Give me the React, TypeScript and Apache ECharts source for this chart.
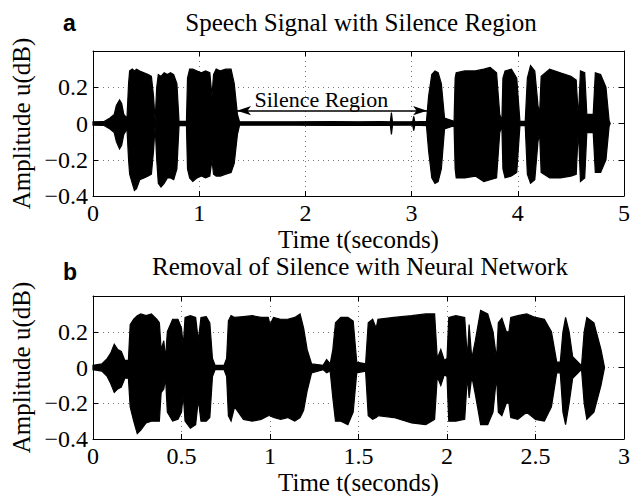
import React, { useEffect, useRef } from "react";
import * as echarts from "echarts";

// ---- Data (envelope knots) ----
// Top panel: speech signal with silence region (time in seconds, amplitude)
const topTime = [
  0.0, 0.1, 0.16, 0.2, 0.22, 0.25, 0.27, 0.29, 0.32, 0.335, 0.345, 0.37, 0.39, 0.41, 0.44, 0.48, 0.52, 0.55,
  0.57, 0.585, 0.6, 0.615, 0.64, 0.67, 0.7, 0.73, 0.76, 0.79, 0.81, 0.88, 0.89, 0.91, 0.94, 0.98, 1.02, 1.06,
  1.1, 1.12, 1.135, 1.16, 1.2, 1.25, 1.3, 1.33, 1.36, 1.38, 1.6, 1.9, 2.25, 2.5, 2.7, 2.8, 2.81, 2.82, 3.01,
  3.02, 3.03, 3.14, 3.16, 3.19, 3.22, 3.25, 3.28, 3.31, 3.4, 3.41, 3.42, 3.5, 3.6, 3.68, 3.74, 3.8, 3.83, 3.85,
  3.86, 3.88, 3.94, 3.99, 4.02, 4.07, 4.09, 4.12, 4.16, 4.19, 4.205, 4.22, 4.3, 4.4, 4.5, 4.55, 4.57, 4.59,
  4.63, 4.65, 4.71, 4.73, 4.78, 4.83, 4.86, 4.87,
];
const topUpper = [
  0.009, 0.01, 0.03, 0.05, 0.1, 0.13, 0.11, 0.05, 0.03, 0.22, 0.29, 0.3, 0.29, 0.3, 0.29, 0.28, 0.27, 0.26,
  0.15, 0.015, 0.2, 0.27, 0.26, 0.28, 0.27, 0.28, 0.27, 0.22, 0.012, 0.012, 0.25, 0.3, 0.3, 0.29, 0.28, 0.29,
  0.28, 0.15, 0.27, 0.3, 0.29, 0.3, 0.3, 0.22, 0.05, 0.009, 0.009, 0.009, 0.011, 0.009, 0.011, 0.009, 0.06, 0.009, 0.009,
  0.04, 0.009, 0.012, 0.15, 0.27, 0.29, 0.28, 0.22, 0.03, 0.012, 0.25, 0.28, 0.29, 0.29, 0.3, 0.31, 0.28, 0.05, 0.015,
  0.25, 0.29, 0.3, 0.25, 0.012, 0.012, 0.25, 0.32, 0.29, 0.1, 0.05, 0.26, 0.3, 0.28, 0.26, 0.24, 0.03, 0.29,
  0.28, 0.05, 0.05, 0.28, 0.27, 0.2, 0.015, 0.0,
];
const topLower = [
  -0.009, -0.01, -0.03, -0.05, -0.1, -0.14, -0.12, -0.06, -0.03, -0.2, -0.28, -0.33, -0.37, -0.36, -0.31, -0.3, -0.29, -0.28,
  -0.15, -0.015, -0.2, -0.33, -0.35, -0.33, -0.3, -0.3, -0.31, -0.25, -0.012, -0.012, -0.25, -0.3, -0.32, -0.3, -0.29, -0.3,
  -0.29, -0.2, -0.28, -0.29, -0.29, -0.28, -0.27, -0.22, -0.06, -0.009, -0.009, -0.009, -0.011, -0.009, -0.011, -0.009, -0.06, -0.009, -0.009,
  -0.04, -0.009, -0.012, -0.15, -0.3, -0.33, -0.32, -0.25, -0.03, -0.012, -0.25, -0.3, -0.3, -0.29, -0.32, -0.31, -0.3, -0.05, -0.015,
  -0.25, -0.3, -0.29, -0.27, -0.012, -0.012, -0.28, -0.33, -0.31, -0.1, -0.05, -0.27, -0.3, -0.3, -0.29, -0.28, -0.03, -0.32,
  -0.3, -0.05, -0.05, -0.27, -0.27, -0.2, -0.015, 0.0,
];

// Bottom panel: signal after silence removal
const botTime = [
  0.0, 0.05, 0.08, 0.1, 0.12, 0.14, 0.16, 0.18, 0.2, 0.21, 0.23, 0.25, 0.27, 0.3, 0.33, 0.36, 0.375, 0.385,
  0.4, 0.41, 0.42, 0.45, 0.48, 0.5, 0.51, 0.52, 0.55, 0.58, 0.595, 0.61, 0.64, 0.66, 0.675, 0.69, 0.74, 0.755,
  0.765, 0.78, 0.8, 0.85, 0.9, 0.95, 0.99, 1.0, 1.02, 1.06, 1.1, 1.14, 1.17, 1.19, 1.21, 1.235, 1.3, 1.32,
  1.34, 1.355, 1.37, 1.4, 1.44, 1.47, 1.49, 1.54, 1.555, 1.58, 1.6, 1.61, 1.7, 1.8, 1.88, 1.93, 1.945, 1.965,
  1.985, 2.0, 2.01, 2.05, 2.1, 2.115, 2.125, 2.14, 2.16, 2.19, 2.23, 2.26, 2.28, 2.29, 2.31, 2.335, 2.35, 2.36,
  2.4, 2.45, 2.5, 2.55, 2.59, 2.62, 2.64, 2.655, 2.67, 2.69, 2.71, 2.76, 2.775, 2.79, 2.83, 2.87, 2.89,
];
const botUpper = [
  0.012, 0.02, 0.05, 0.08, 0.13, 0.1, 0.09, 0.04, 0.04, 0.24, 0.27, 0.29, 0.3, 0.29, 0.3, 0.27, 0.25, 0.1,
  0.15, 0.05, 0.2, 0.27, 0.27, 0.22, 0.12, 0.28, 0.29, 0.28, 0.15, 0.28, 0.285, 0.25, 0.05, 0.012, 0.012, 0.05,
  0.26, 0.29, 0.28, 0.285, 0.29, 0.28, 0.28, 0.24, 0.28, 0.27, 0.27, 0.28, 0.3, 0.22, 0.1, 0.02, 0.012, 0.045,
  0.02, 0.1, 0.25, 0.28, 0.28, 0.26, 0.03, 0.02, 0.25, 0.27, 0.22, 0.27, 0.28, 0.29, 0.3, 0.3, 0.05, 0.1,
  0.04, 0.05, 0.28, 0.29, 0.28, 0.05, 0.24, 0.05, 0.15, 0.32, 0.3, 0.2, 0.05, 0.25, 0.275, 0.2, 0.2, 0.28,
  0.29, 0.3, 0.28, 0.27, 0.2, 0.03, 0.03, 0.2, 0.28, 0.2, 0.06, 0.01, 0.2, 0.28, 0.25, 0.1, 0.0,
];
const botLower = [
  -0.012, -0.02, -0.05, -0.09, -0.14, -0.12, -0.11, -0.06, -0.06, -0.22, -0.3, -0.37, -0.35, -0.31, -0.3, -0.3, -0.3, -0.14,
  -0.12, -0.06, -0.25, -0.3, -0.29, -0.25, -0.15, -0.3, -0.34, -0.32, -0.18, -0.3, -0.3, -0.28, -0.05, -0.012, -0.012, -0.05,
  -0.27, -0.3, -0.22, -0.29, -0.3, -0.29, -0.27, -0.27, -0.28, -0.29, -0.28, -0.3, -0.28, -0.24, -0.13, -0.03, -0.012, -0.03,
  -0.02, -0.17, -0.3, -0.3, -0.32, -0.25, -0.03, -0.02, -0.27, -0.29, -0.28, -0.27, -0.28, -0.31, -0.32, -0.29, -0.05, -0.1,
  -0.04, -0.05, -0.3, -0.3, -0.29, -0.05, -0.17, -0.05, -0.15, -0.32, -0.32, -0.25, -0.05, -0.25, -0.27, -0.2, -0.2, -0.28,
  -0.29, -0.25, -0.29, -0.3, -0.22, -0.03, -0.03, -0.25, -0.32, -0.2, -0.06, -0.01, -0.2, -0.29, -0.25, -0.1, 0.0,
];

// Annotation
const silenceStart = 1.356;
const silenceEnd = 3.146;
const arrowLevel = 0.071;
const silenceLabelPos = [2.15, 0.135];

const topTicks = { min: 0, max: 5, interval: 1 };
const botTicks = { min: 0, max: 3, interval: 0.5 };
const yTicks = { min: -0.4, max: 0.4, interval: 0.2 };

const SERIF = "Liberation Serif, serif";
const SANS = "Liberation Sans, sans-serif";

function fmtY(v: number): string {
  const r = parseFloat(v.toFixed(1));
  if (r >= 0.39) return "";
  if (r < 0) return "\u2212" + String(Math.abs(r));
  return String(r);
}

function waveSeries(t: number[], hi: number[], lo: number[], xi: number, yi: number) {
  return {
    type: "custom",
    xAxisIndex: xi,
    yAxisIndex: yi,
    silent: true,
    z: 3,
    data: t.map((x, i) => [x, hi[i], lo[i]]),
    renderItem: (params: any, api: any) => {
      if (params.dataIndex !== 0) return null;
      const up = t.map((x, i) => api.coord([x, hi[i]]));
      const dn = t.map((x, i) => api.coord([x, lo[i]])).reverse();
      return {
        type: "polygon",
        shape: { points: up.concat(dn) },
        style: { fill: "#000", stroke: "#000", lineWidth: 1.2, lineJoin: "miter" },
      };
    },
  };
}

function xAxes(grid: number, ticks: { min: number; max: number; interval: number }) {
  return [
    {
      gridIndex: grid,
      type: "value",
      position: "bottom",
      ...ticks,
      axisLine: { show: true, onZero: false, lineStyle: { color: "#000", width: 1 } },
      axisTick: { show: true, inside: true, length: 5, lineStyle: { color: "#000" } },
      axisLabel: { fontFamily: SERIF, fontSize: 24, color: "#000", margin: 5 },
      splitLine: { show: true, lineStyle: { color: "#777", type: [1, 4], width: 1 } },
      name: "Time t(seconds)",
      nameLocation: "middle",
      nameGap: 31,
      nameTextStyle: { fontFamily: SERIF, fontSize: 25, color: "#000" },
    },
    {
      gridIndex: grid,
      type: "value",
      position: "top",
      ...ticks,
      axisLine: { show: true, onZero: false, lineStyle: { color: "#000", width: 1 } },
      axisTick: { show: true, inside: true, length: 5, lineStyle: { color: "#000" } },
      axisLabel: { show: false },
      splitLine: { show: false },
    },
  ];
}

function yAxes(grid: number) {
  return [
    {
      gridIndex: grid,
      type: "value",
      position: "left",
      ...yTicks,
      axisLine: { show: true, onZero: false, lineStyle: { color: "#000", width: 1 } },
      axisTick: { show: true, inside: true, length: 5, lineStyle: { color: "#000" } },
      axisLabel: { fontFamily: SERIF, fontSize: 24, color: "#000", margin: 5, formatter: fmtY },
      splitLine: { show: true, lineStyle: { color: "#777", type: [1, 4], width: 1 } },
      name: "Amplitude u(dB)",
      nameLocation: "middle",
      nameRotate: 90,
      nameGap: 56,
      nameTextStyle: { fontFamily: SERIF, fontSize: 25, color: "#000" },
    },
    {
      gridIndex: grid,
      type: "value",
      position: "right",
      ...yTicks,
      axisLine: { show: true, onZero: false, lineStyle: { color: "#000", width: 1 } },
      axisTick: { show: true, inside: true, length: 5, lineStyle: { color: "#000" } },
      axisLabel: { show: false },
      splitLine: { show: false },
    },
  ];
}

export default function App() {
  const ref = useRef<HTMLDivElement>(null);
  useEffect(() => {
    if (!ref.current) return;
    const chart = echarts.init(ref.current, null, { renderer: "svg" });
    const option: any = {
      animation: false,
      backgroundColor: "#fff",
      title: [
        { text: "a", left: 63, top: 11, padding: 0, textStyle: { fontFamily: SANS, fontWeight: "bold", fontSize: 23, color: "#000" } },
        { text: "Speech Signal with Silence Region", left: 361, top: 10, padding: 0, textAlign: "center", textStyle: { fontFamily: SERIF, fontWeight: "normal", fontSize: 25, color: "#000" } },
        { text: "b", left: 63, top: 260, padding: 0, textStyle: { fontFamily: SANS, fontWeight: "bold", fontSize: 23, color: "#000" } },
        { text: "Removal of Silence with Neural Network", left: 360, top: 254, padding: 0, textAlign: "center", textStyle: { fontFamily: SERIF, fontWeight: "normal", fontSize: 25, color: "#000" } },
      ],
      grid: [
        { left: 93, top: 51, width: 535, height: 145, show: false },
        { left: 93, top: 296, width: 535, height: 145, show: false },
      ],
      xAxis: [...xAxes(0, topTicks), ...xAxes(1, botTicks)],
      yAxis: [...yAxes(0), ...yAxes(1)],
      series: [
        waveSeries(topTime, topUpper, topLower, 0, 0),
        waveSeries(botTime, botUpper, botLower, 2, 2),
        {
          id: "annot",
          type: "line",
          xAxisIndex: 0,
          yAxisIndex: 0,
          data: [],
          silent: true,
          markLine: {
            silent: true,
            symbol: ["arrow", "arrow"],
            symbolSize: [7, 14],
            lineStyle: { color: "#000", width: 1.5, type: "solid" },
            label: { show: false },
            data: [[{ coord: [silenceStart, arrowLevel] }, { coord: [silenceEnd, arrowLevel] }]],
          },
          markPoint: {
            silent: true,
            symbol: "circle",
            symbolSize: 0,
            label: { show: true, position: "inside", formatter: "Silence Region", fontFamily: SERIF, fontSize: 22, color: "#000" },
            data: [{ coord: silenceLabelPos }],
          },
          z: 5,
        },
      ],
    };
    chart.setOption(option);
    return () => chart.dispose();
  }, []);
  return <div ref={ref} style={{ position: "fixed", left: 0, top: 0, width: 633, height: 496 }} />;
}
